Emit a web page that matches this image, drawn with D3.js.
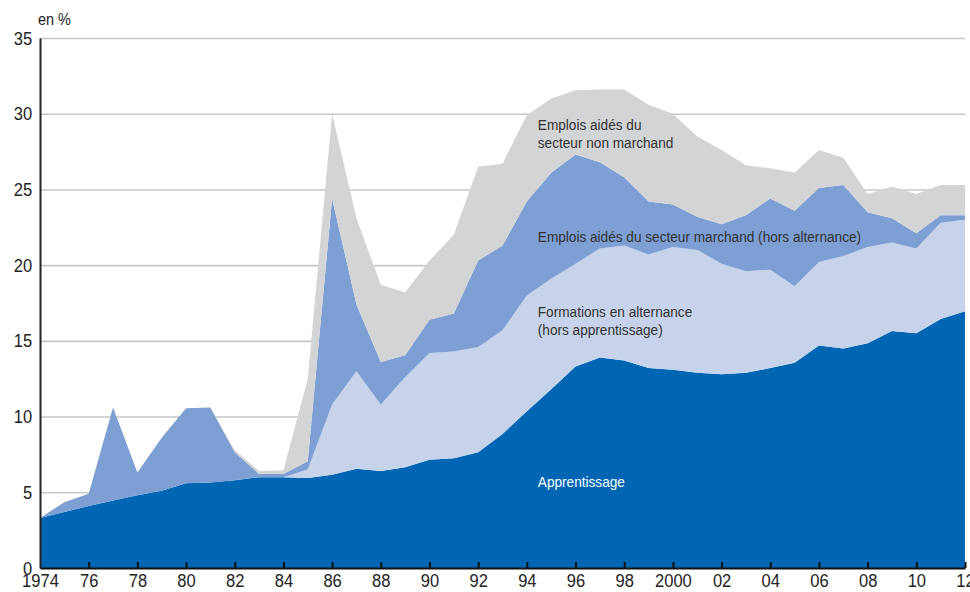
<!DOCTYPE html>
<html>
  <head>
    <meta charset="UTF-8" />
    <script src="https://cdnjs.cloudflare.com/ajax/libs/d3/7.8.5/d3.min.js"></script>
    <style>
      body {
        margin: 0;
        background: #fff;
      }
      svg text {
        font-family: "Liberation Sans", Arial, sans-serif;
      }
      .grid line {
        stroke: #c6c7ca;
        stroke-width: 1.6;
      }
      .grid path.domain {
        display: none;
      }
    </style>
  </head>
  <body>
    <svg id="chart" width="970" height="592"></svg>
    <script>
      const years = d3.range(1974, 2013);

      // part de chaque dispositif, en %
      const apprentissage = [3.3, 3.7, 4.1, 4.45, 4.8, 5.1, 5.6, 5.65, 5.8, 6.0, 6.0, 5.95, 6.15, 6.55, 6.4, 6.65, 7.15, 7.25, 7.65, 8.85, 10.35, 11.8, 13.3, 13.9, 13.7, 13.2, 13.1, 12.9, 12.8, 12.9, 13.2, 13.55, 14.7, 14.5, 14.85, 15.65, 15.5, 16.45, 16.95];
      const formations = [0, 0, 0, 0, 0, 0, 0, 0, 0, 0, 0, 0.55, 4.65, 6.45, 4.4, 5.95, 7.05, 7.05, 6.95, 6.85, 7.65, 7.3, 6.8, 7.2, 7.6, 7.5, 8.1, 8.1, 7.3, 6.7, 6.5, 5.05, 5.5, 6.1, 6.35, 5.85, 5.6, 6.35, 6.05];
      const marchand = [0, 0.65, 0.8, 6.15, 1.5, 3.5, 4.95, 4.95, 1.85, 0.2, 0.2, 0.55, 13.6, 4.4, 2.8, 1.45, 2.2, 2.5, 5.7, 5.6, 6.2, 7.0, 7.2, 5.7, 4.5, 3.5, 2.8, 2.2, 2.6, 3.7, 4.7, 5.0, 4.9, 4.7, 2.3, 1.6, 1.0, 0.5, 0.3];
      const nonMarchand = [0, 0, 0, 0, 0, 0, 0, 0, 0.15, 0.2, 0.25, 5.45, 5.6, 5.7, 5.1, 4.15, 3.9, 5.2, 6.2, 5.4, 5.7, 4.9, 4.25, 4.8, 5.8, 6.4, 6.0, 5.3, 4.9, 3.3, 2.0, 2.5, 2.5, 1.8, 1.2, 2.1, 2.6, 2.0, 2.0];

      const seriesKeys = ["apprentissage", "formations", "marchand", "nonMarchand"];
      const fillByKey = {
        apprentissage: "#0066b3",
        formations: "#c6d3ea",
        marchand: "#7d9fd3",
        nonMarchand: "#d3d4d6"
      };

      const yTicks = [0, 5, 10, 15, 20, 25, 30, 35];
      const xTicks = d3.range(1974, 2013, 2);
      const xTickLabel = y => (y === 1974 || y === 2000 ? String(y) : String(y).slice(2));

      const labels = [
        { lines: ["Emplois aidés du", "secteur non marchand"], year: 1994.45, value: 28.93, color: "#333" },
        { lines: ["Emplois aidés du secteur marchand (hors alternance)"], year: 1994.45, value: 21.53, color: "#333" },
        { lines: ["Formations en alternance", "(hors apprentissage)"], year: 1994.45, value: 16.58, color: "#333" },
        { lines: ["Apprentissage"], year: 1994.45, value: 5.35, color: "#fff" }
      ];

      // police condensée absente : on resserre le texte à la main
      const squeeze = 0.87;

      const table = years.map((y, i) => ({
        year: y,
        apprentissage: apprentissage[i],
        formations: formations[i],
        marchand: marchand[i],
        nonMarchand: nonMarchand[i]
      }));

      const svg = d3.select("#chart");
      const margin = { left: 40, right: 5, top: 38, bottom: 24 };
      const width = 970 - margin.left - margin.right,
        height = 592 - margin.top - margin.bottom;

      const x = d3.scaleLinear().domain([1974, 2012]).range([margin.left, margin.left + width]);
      const y = d3.scaleLinear().domain([0, 35]).range([margin.top + height, margin.top]);

      // grille
      svg
        .append("g")
        .attr("class", "grid")
        .attr("transform", `translate(${margin.left},0)`)
        .call(d3.axisRight(y).tickValues(yTicks.slice(1)).tickSize(width).tickFormat(""));

      const layers = d3.stack().keys(seriesKeys)(table);

      const area = d3
        .area()
        .x(d => x(d.data.year))
        .y0(d => y(d[0]))
        .y1(d => y(d[1]));

      svg
        .append("g")
        .selectAll("path")
        .data(layers)
        .join("path")
        .attr("d", area)
        .attr("fill", d => fillByKey[d.key]);

      // axe vertical
      const yAxis = svg
        .append("g")
        .attr("transform", `translate(${margin.left},0)`)
        .call(d3.axisLeft(y).tickValues(yTicks).tickSize(0).tickPadding(9));
      yAxis.select(".domain").attr("stroke", "#222").attr("stroke-width", 2);
      yAxis
        .selectAll("text")
        .attr("font-size", 19)
        .attr("fill", "#222")
        .attr("font-family", null)
        .attr("transform", `scale(${squeeze},1)`);

      // axe horizontal
      const xAxis = svg
        .append("g")
        .attr("transform", `translate(0,${y(0)})`)
        .call(d3.axisBottom(x).tickValues(xTicks).tickSize(-6).tickSizeOuter(0).tickFormat(xTickLabel));
      xAxis.select(".domain").attr("stroke", "#111").attr("stroke-width", 2.2);
      xAxis.selectAll(".tick line").attr("stroke", "#111").attr("stroke-width", 2);
      xAxis.selectAll(".tick").filter(d => d === 1974).select("line").remove();
      xAxis
        .selectAll("text")
        .attr("font-size", 19)
        .attr("fill", "#222")
        .attr("font-family", null)
        .attr("y", 19)
        .attr("dy", 0)
        .attr("transform", `scale(${squeeze},1)`);

      svg
        .append("text")
        .attr("transform", "translate(38,25) scale(0.85,1)")
        .attr("font-size", 17)
        .attr("fill", "#222")
        .text("en %");

      // étiquettes des séries
      labels.forEach(l => {
        const t = svg
          .append("text")
          .attr("transform", `translate(${x(l.year)},${y(l.value)}) scale(0.88,1)`)
          .attr("font-size", 15.5)
          .attr("fill", l.color);
        l.lines.forEach((line, i) => {
          t.append("tspan")
            .attr("x", 0)
            .attr("dy", i === 0 ? 0 : 18.5)
            .text(line);
        });
      });
    </script>
  </body>
</html>
